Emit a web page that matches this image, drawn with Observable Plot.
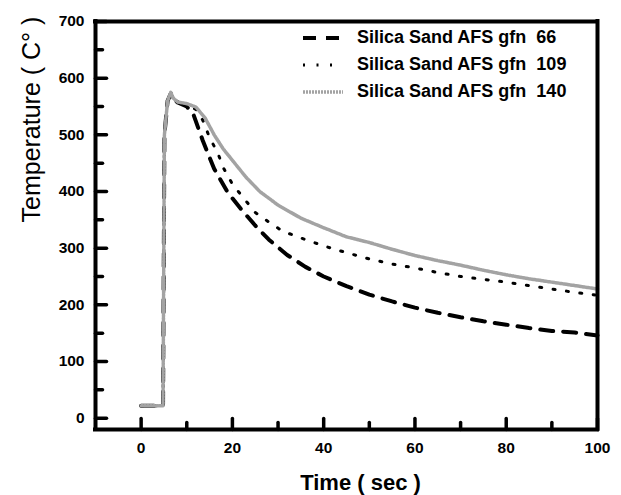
<!DOCTYPE html>
<html><head><meta charset="utf-8">
<script src="https://cdn.jsdelivr.net/npm/d3@7"></script>
<script src="https://cdn.jsdelivr.net/npm/@observablehq/plot@0.6"></script>
<style>
body{margin:0;background:#fff}
#wrap{position:relative;width:621px;height:495px}
#legend{position:absolute;left:303px;top:24px;font-family:"Liberation Sans",Arial,sans-serif;font-weight:bold;font-size:18px;color:#000}
#legend .row{display:flex;align-items:center;height:27px;white-space:pre}
#legend svg{margin-right:14px}
</style>
</head><body><div id="wrap"></div>
<script>
const seriesNames = ["Silica Sand AFS gfn  66", "Silica Sand AFS gfn  109", "Silica Sand AFS gfn  140"];

const t66 = [0,4.8,5.1,5.8,6.5,7,8,10,11.5,13.5,16,19,22,25,28,32,36,40,45,50,55,60,65,70,75,80,85,90,95,100];
const T66 = [22,22,500,560,573,565,557,550,535,490,440,398,368,340,315,288,267,250,233,218,206,195,186,178,171,165,159,154,151,146];

const t109 = [0,4.8,5.1,5.8,6.5,7,8,10,12,13.5,15,16.8,18,20,22.5,25,28,31,35,40,45,50,55,60,65,70,75,80,85,90,95,100];
const T109 = [22,22,500,560,573,565,557,553,545,526,495,468,442,413,388,363,346,330,318,304,292,281,272,265,257,250,245,240,234,228,222,217];

const t140 = [0,4.8,5.1,5.8,6.5,7,8,10,12,14,16,18,20,23,26,30,35,40,45,50,55,60,65,70,75,80,85,90,95,100];
const T140 = [22,22,500,560,575,565,558,555,549,530,500,475,455,425,400,376,353,336,320,310,298,287,278,270,261,253,246,240,234,228];

const xDomain = [-10, 100];
const yDomain = [-20, 700];
const xMajor = [0,20,40,60,80,100];
const xMinor = [10,30,50,70,90];
const yMajor = [0,100,200,300,400,500,600,700];
const yMinor = [50,150,250,350,450,550,650];

const styles = [
  {stroke:"#000", strokeWidth:4, strokeDasharray:"13,10"},
  {stroke:"#000", strokeWidth:3, strokeDasharray:"2,11.5"},
  {stroke:"#a3a3a3", strokeWidth:3.5, strokeDasharray:"2,1"}
];

const toRows = (ts, vs) => ts.map((t,i)=>({t, T: vs[i]}));
const d66 = toRows(t66, T66), d109 = toRows(t109, T109), d140 = toRows(t140, T140);

const font = '"Liberation Sans",Arial,sans-serif';
const tickShape = {draw(context, l) { context.moveTo(0, 0); context.lineTo(0, -l); }};

const chart = Plot.plot({
  width: 621, height: 495,
  marginLeft: 95, marginRight: 24, marginTop: 21, marginBottom: 66,
  style: {fontFamily: font, fontSize: "15.5px", fontWeight: "bold", background: "#fff", color: "#000"},
  x: {domain: xDomain},
  y: {domain: yDomain},
  marks: [
    Plot.line(d66, {x:"t", y:"T", ...styles[0]}),
    Plot.line(d109, {x:"t", y:"T", ...styles[1]}),
    Plot.line(d140, {x:"t", y:"T", ...styles[2]}),
    Plot.vector(xMajor, {x: d => d, y: yDomain[0], length: 11, rotate: 0, anchor: "start", shape: tickShape, stroke: "#000", strokeWidth: 3.5}),
    Plot.vector(xMinor, {x: d => d, y: yDomain[0], length: 7, rotate: 0, anchor: "start", shape: tickShape, stroke: "#000", strokeWidth: 3.5}),
    Plot.vector(yMajor, {x: xDomain[0], y: d => d, length: 11, rotate: 90, anchor: "start", shape: tickShape, stroke: "#000", strokeWidth: 3.5}),
    Plot.vector(yMinor, {x: xDomain[0], y: d => d, length: 7, rotate: 90, anchor: "start", shape: tickShape, stroke: "#000", strokeWidth: 3.5}),
    Plot.axisX({ticks: xMajor, tickSize: 0, tickPadding: 12, label: null, fontSize: 15.5, fontWeight: "bold"}),
    Plot.axisY({ticks: yMajor, tickSize: 0, tickPadding: 11, label: null, fontSize: 15.5, fontWeight: "bold"}),
    Plot.ruleX([xDomain[0], xDomain[1]], {stroke: "#000", strokeWidth: 4, strokeLinecap: "square"}),
    Plot.ruleY([yDomain[0], yDomain[1]], {stroke: "#000", strokeWidth: 4, strokeLinecap: "square"}),
    Plot.text(["Time ( sec )"], {frameAnchor: "bottom", dy: 53, dx: 14, fontSize: 22, fontWeight: "bold", lineAnchor: "middle"}),
    Plot.text(["Temperature ( C° )"], {frameAnchor: "left", dx: -64, dy: -3, rotate: -90, fontSize: 25, fontWeight: "normal"})
  ]
});
const wrap = document.getElementById("wrap");
wrap.appendChild(chart);

const legend = document.createElement("div");
legend.id = "legend";
seriesNames.forEach((name, i) => {
  const row = document.createElement("div");
  row.className = "row";
  const s = styles[i];
  row.innerHTML = `<svg width="40" height="10"><line x1="0" x2="40" y1="5" y2="5" stroke="${s.stroke}" stroke-width="${s.strokeWidth}" stroke-dasharray="${s.strokeDasharray}"/></svg><span>${name}</span>`;
  legend.appendChild(row);
});
wrap.appendChild(legend);
</script>
</body></html>
